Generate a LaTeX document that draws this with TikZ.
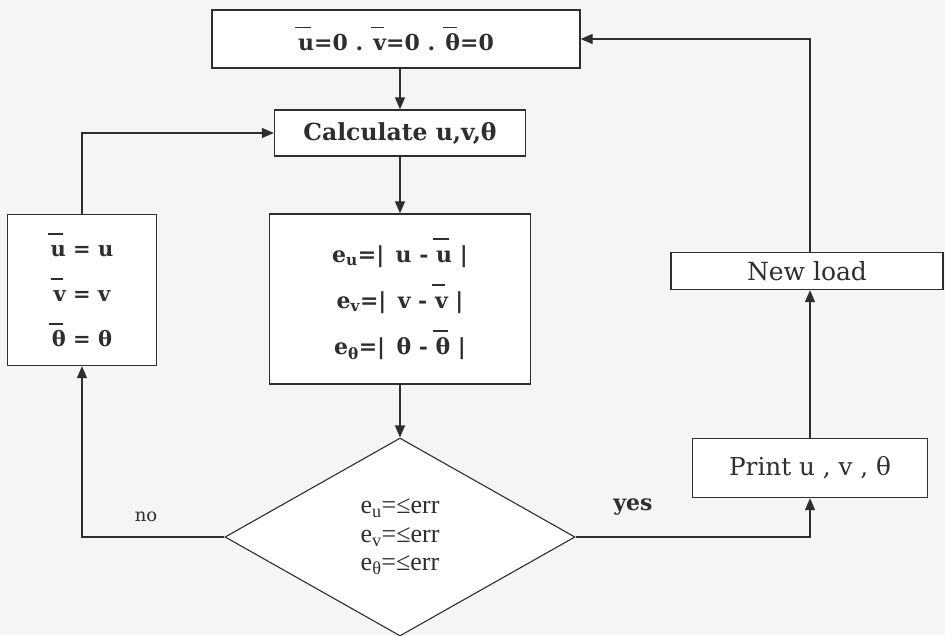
\documentclass[tikz,border=0pt]{standalone}
\usepackage{fontspec}
\setmainfont{DejaVu Serif}
\newfontfamily\timesf{Liberation Serif}
\usetikzlibrary{arrows.meta,shapes.geometric,calc}
\definecolor{ink}{HTML}{2E2E2E}
\definecolor{paper}{HTML}{F3F5F6}
\newcommand{\olx}[1]{\setbox0\hbox{#1}\rlap{\kern-0.12em\rule[1.02em]{\wd0}{1.5pt}}\box0\relax}
\tikzset{
  boxnode/.style={draw=ink,line width=1.3pt,fill=white,rectangle,inner sep=0pt,text=ink,align=center},
  dianode/.style={draw=ink,line width=1.1pt,fill=white,diamond,inner sep=0pt,text=ink,align=center,font=\timesf\fontsize{26}{28.5}\selectfont},
  conn/.style={draw=ink,line width=1.2pt,-{Triangle[length=12pt,width=10pt]}},
  lbl/.style={text=ink}
}
\begin{document}
\begin{tikzpicture}[x=1pt,y=-1pt]
\useasboundingbox[fill=paper] (0,0) rectangle (945,635);
\node[boxnode,minimum width=368pt,minimum height=58pt,font=\bfseries\fontsize{22}{28}\selectfont] (top) at (396,39)
  {\raisebox{-8pt}{\olx{u}=0 . \olx{v}=0 . \olx{θ}=0}};
\node[boxnode,minimum width=251pt,minimum height=46pt,font=\bfseries\fontsize{23.5}{28}\selectfont] (calc) at (400,133) {Calculate u,v,θ};
\node[boxnode,minimum width=261pt,minimum height=170pt,font=\bfseries\fontsize{22}{46}\selectfont] (ebox) at (400,299)
  {e\textsubscript{u}=|\, u - \olx{u} |\\ e\textsubscript{v}=|\, v - \olx{v} |\\ e\textsubscript{θ}=|\, θ - \olx{θ} |};
\node[dianode,minimum width=350pt,minimum height=198pt] (dia) at (400,537)
  {e\textsubscript{u}=≤err\\ e\textsubscript{v}=≤err\\ e\textsubscript{θ}=≤err};
\node[boxnode,minimum width=149pt,minimum height=151pt,font=\bfseries\fontsize{21}{45}\selectfont] (left) at (82,290)
  {\olx{u} = u\\ \olx{v} = v\\ \olx{θ} = θ};
\node[boxnode,minimum width=235pt,minimum height=59pt,font=\fontsize{24.7}{28}\selectfont] (print) at (810,468) {Print u , v , θ};
\node[boxnode,minimum width=272pt,minimum height=37pt,font=\fontsize{25}{28}\selectfont] (newload) at (807,271) {New load};
\draw[conn] (top.south -| calc.north) -- (calc.north);
\draw[conn] (calc.south) -- (ebox.north);
\draw[conn] (ebox.south) -- (dia.north);
\draw[conn] (dia.west) -| (left.south);
\draw[conn] (left.north) |- (calc.west);
\draw[conn] (dia.east) -| (print.south);
\draw[conn] (print.north) -- (print.north |- newload.south);
\draw[conn] (print.north |- newload.north) |- (top.east);
\node[lbl,font=\fontsize{18}{22}\selectfont] (no) at (146,517) {no};
\node[lbl,font=\bfseries\fontsize{22}{26}\selectfont] (yes) at (633,507) {yes};
\end{tikzpicture}
\end{document}
